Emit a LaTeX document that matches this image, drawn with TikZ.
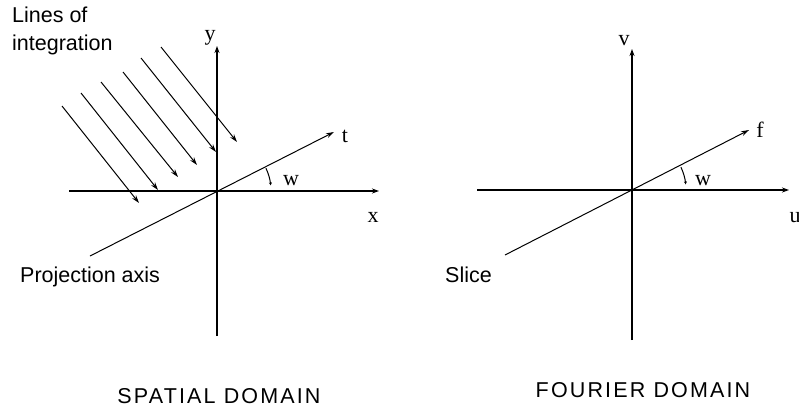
\documentclass[tikz,border=0pt]{standalone}
\usepackage{fontspec}
\setmainfont{Liberation Sans}
\newfontfamily\lblfont{Liberation Serif}
\newfontfamily\capfont[LetterSpace=10]{Liberation Sans}
\usetikzlibrary{arrows.meta}
\begin{document}
\begin{tikzpicture}[x=1pt,y=-1pt,
  axis/.style={line width=1.7pt,-{Stealth[length=7pt,width=5pt]}},
  thinline/.style={line width=1pt},
  integ/.style={line width=1pt,-{Stealth[length=8pt,width=5pt]}},
  lbl/.style={inner sep=0pt,anchor=base,font=\lblfont\fontsize{22}{22}\selectfont},
  txt/.style={inner sep=0pt,anchor=base west,font=\fontsize{21.5}{24}\selectfont},
  captext/.style={inner sep=0pt,anchor=base,font=\capfont\fontsize{21.5}{22}\selectfont},
  angarc/.style={line width=1pt,-{Stealth[length=3pt,width=3pt]}}]
\useasboundingbox (0,0) rectangle (799,410);
% ---------- spatial domain ----------
\coordinate (O1) at (217,191);
\coordinate (x1a) at (69,191);  \coordinate (x1b) at (379,191);
\coordinate (y1a) at (217,336); \coordinate (y1b) at (217,46);
\coordinate (t1a) at (90,256);  \coordinate (t1b) at (334,132);
\draw[axis] (x1a) -- (x1b);
\draw[axis] (y1a) -- (y1b);
\draw[thinline,-{Stealth[length=8pt,width=5pt]}] (t1a) -- (t1b);
\draw[angarc] (O1) ++(-25:54) arc[start angle=-25,end angle=-6,radius=54];
% lines of integration
\foreach \i/\sx/\sy/\ex/\ey in {1/62/106/139/203,2/81/93/158/190,3/101/82/178/177,4/123/72/197/165,5/141/58/216/152,6/161/47/237/142}{
  \coordinate (li\i s) at (\sx,\sy);
  \coordinate (li\i e) at (\ex,\ey);
  \draw[integ] (li\i s) -- (li\i e);
}
\node[lbl] (ylab) at (210,40) {y};
\node[lbl] (xlab) at (373,222) {x};
\node[lbl] (tlab) at (345,142) {t};
\node[lbl] (w1lab) at (291,185) {w};
\node[txt] (lines1) at (12,22) {Lines of};
\node[txt] (lines2) at (12,50) {integration};
\node[txt] (proj) at (20,282) {Projection axis};
\node[captext] (spatial) at (219,403) {SPATIAL DOMAIN};
% ---------- fourier domain ----------
\coordinate (O2) at (632,190);
\coordinate (x2a) at (477,190); \coordinate (x2b) at (789,190);
\coordinate (y2a) at (632,340); \coordinate (y2b) at (632,49);
\coordinate (f2a) at (505,255); \coordinate (f2b) at (749,130);
\draw[axis] (x2a) -- (x2b);
\draw[axis] (y2a) -- (y2b);
\draw[thinline,-{Stealth[length=8pt,width=5pt]}] (f2a) -- (f2b);
\draw[angarc] (O2) ++(-25:54) arc[start angle=-25,end angle=-6,radius=54];
\node[lbl] (vlab) at (624,45) {v};
\node[lbl] (ulab) at (795,222) {u};
\node[lbl] (flab) at (760,137) {f};
\node[lbl] (w2lab) at (703,185) {w};
\node[txt] (slice) at (445,282) {Slice};
\node[captext] (fourier) at (643,397) {FOURIER DOMAIN};
\end{tikzpicture}
\end{document}
